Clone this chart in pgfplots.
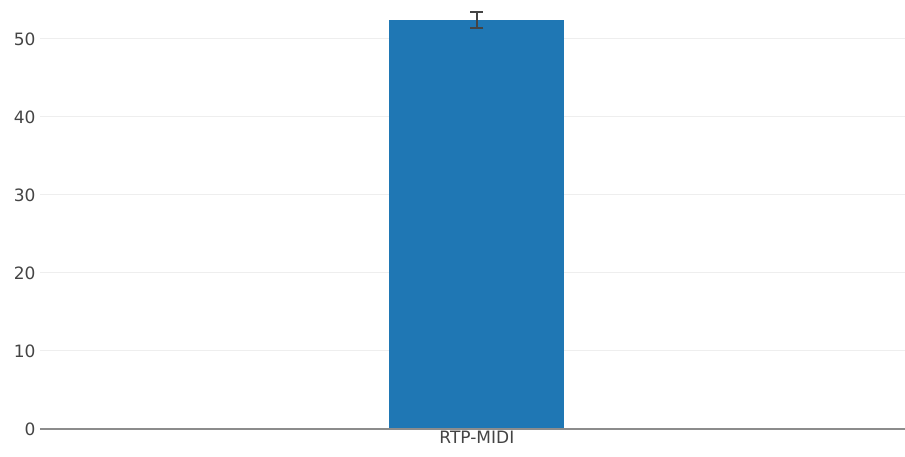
\documentclass[border=0pt]{standalone}
\usepackage{pgfplots}
\pgfplotsset{compat=1.18}
\usepackage{fontspec}
\setmainfont{DejaVu Sans}
\definecolor{barblue}{HTML}{1F77B4}
\definecolor{txtgray}{HTML}{444444}
\definecolor{gridgray}{HTML}{EEEEEE}
\begin{document}
\begin{tikzpicture}[x=1pt,y=1pt]
\useasboundingbox (-40,-28) rectangle (865,429);
\begin{axis}[
  at={(0,0)}, anchor=south west,
  scale only axis, width=865pt, height=429pt,
  xmin=-0.5, xmax=0.49, ymin=0, ymax=55,
  axis line style={draw=none},
  xtick={0}, xticklabels={RTP-MIDI},
  ytick={0,10,20,30,40,50},
  ymajorgrids, grid style={gridgray, line width=1pt},
  major tick length=0pt,
  tick label style={font=\fontsize{17}{17}\selectfont, text=txtgray},
  /pgf/number format/assume math mode=true,
  yticklabel style={xshift=-1pt},
  xticklabel style={yshift=1pt},
  clip=false,
]
\addplot[ybar, bar width=0.2, fill=barblue, draw=none, bar shift=0pt,
  error bars/.cd, y dir=both, y explicit,
  error bar style={txtgray, line width=2pt},
  error mark options={rotate=90, mark size=6.5pt, line width=2pt, txtgray}]
  coordinates {(0,52.4) +- (0,1.0)};
\draw[color=gray!90, line width=2pt] (axis cs:-0.5,0) -- (axis cs:0.49,0);
\end{axis}
\end{tikzpicture}
\end{document}
